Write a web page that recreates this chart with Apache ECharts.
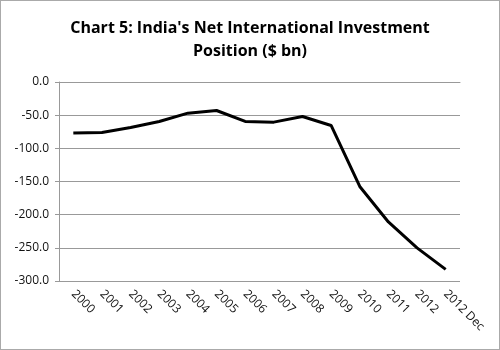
<!DOCTYPE html>
<html>
<head>
<meta charset="utf-8">
<script src="https://cdn.jsdelivr.net/npm/echarts@6/dist/echarts.min.js"></script>
<style>
  html, body { margin: 0; padding: 0; background: #fff; }
  #chart { width: 500px; height: 350px; box-sizing: border-box; border: 1px solid #aaa; }
</style>
</head>
<body>
<div id="chart"></div>
<script>
var years = ['2000', '2001', '2002', '2003', '2004', '2005', '2006', '2007', '2008', '2009', '2010', '2011', '2012', '2012 Dec'];
var niip = [-77, -76, -68.5, -59.5, -47, -43, -59.5, -60.5, -52, -65.5, -157.5, -211, -250, -282.5];

var chart = echarts.init(document.getElementById('chart'));
chart.setOption({
  animation: false,
  title: {
    text: "Chart 5: India's Net International Investment\nPosition ($ bn)",
    left: 'center',
    top: 11,
    textStyle: {
      fontFamily: 'Open Sans',
      fontWeight: 'bold',
      fontSize: 16,
      lineHeight: 23,
      color: '#000'
    }
  },
  grid: {
    left: 58,
    right: 39,
    top: 81,
    bottom: 68
  },
  xAxis: [
    {
      type: 'category',
      data: years,
      position: 'bottom',
      axisLine: { show: false },
      axisTick: { show: false },
      axisLabel: {
        rotate: -45,
        interval: 0,
        margin: 11,
        fontFamily: 'Open Sans',
        fontSize: 12,
        color: '#111'
      }
    },
    {
      type: 'category',
      data: years,
      position: 'top',
      axisLine: { lineStyle: { color: '#999', width: 1 } },
      axisTick: { inside: true, length: 3, interval: 0, lineStyle: { color: '#999' } },
      axisLabel: { show: false }
    }
  ],
  yAxis: {
    type: 'value',
    min: -300,
    max: 0,
    interval: 50,
    axisLine: { show: true, lineStyle: { color: '#999' } },
    axisTick: { show: true, length: 4, lineStyle: { color: '#999' } },
    splitLine: { lineStyle: { color: '#999', width: 1 } },
    axisLabel: {
      margin: 10,
      fontFamily: 'Open Sans',
      fontSize: 12,
      color: '#111',
      formatter: function (v) { return v.toFixed(1); }
    }
  },
  series: [
    {
      type: 'line',
      data: niip,
      xAxisIndex: 0,
      symbol: 'none',
      lineStyle: { color: '#000', width: 3 }
    }
  ]
});
</script>
</body>
</html>
